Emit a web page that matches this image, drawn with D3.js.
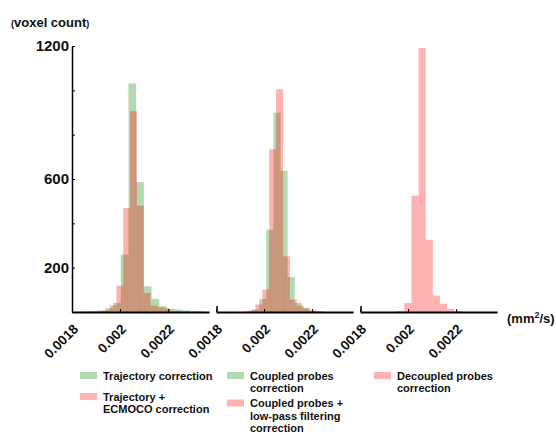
<!DOCTYPE html>
<html>
<head>
<meta charset="utf-8">
<script src="https://cdn.jsdelivr.net/npm/d3@7"></script>
<style>
  body { margin: 0; background: #fff; }
  svg text { font-family: "Liberation Sans", Arial, sans-serif; font-weight: bold; fill: #111; }
</style>
</head>
<body>
<script>
// histogram data: bin start, bin width, counts per bin
// panel 1
var trajStart = 0.001811, trajWidth = 0.000032;
var trajCounts = [1, 2, 3, 6, 17, 41, 259, 1031, 586, 116, 59, 26, 15, 11, 7, 4, 3];
var ecmocoStart = 0.0018137, ecmocoWidth = 0.0000285;
var ecmocoCounts = [1, 1, 2, 4, 8, 31, 119, 469, 906, 480, 86, 29, 22, 15, 3, 1];
// panel 2
var coupledStart = 0.0019208, coupledWidth = 0.0000295;
var coupledCounts = [2, 12, 59, 371, 899, 637, 158, 41, 19, 6, 2];
var lowpassStart = 0.0019065, lowpassWidth = 0.0000287;
var lowpassCounts = [2, 8, 34, 101, 734, 1005, 251, 56, 29, 15, 6, 3];
// panel 3
var decoupledStart = 0.0019254, decoupledWidth = 0.0000296;
var decoupledCounts = [1, 5, 41, 525, 1191, 326, 74, 37, 14, 4, 1];

var xTicks = [0.0018, 0.002, 0.0022];
var xTickLabels = ['0.0018', '0.002', '0.0022'];
var yTicks = [0, 200, 400, 600, 800, 1000, 1200];
var yLabelled = [200, 600, 1200];

var legendCols = [
  [{color: 'green', lines: ['Trajectory correction']},
   {color: 'red', lines: ['Trajectory +', 'ECMOCO correction']}],
  [{color: 'green', lines: ['Coupled probes', 'correction']},
   {color: 'red', lines: ['Coupled probes +', 'low-pass filtering', 'correction']}],
  [{color: 'red', lines: ['Decoupled probes', 'correction']}]
];

var width = 556, height = 435;
var fill = {green: 'rgb(0,128,0)', red: 'rgb(255,0,0)'};
var alpha = 0.3;

var svg = d3.select('body').append('svg')
  .attr('width', width)
  .attr('height', height);

var panels = [
  {x0: 72, series: [
    {start: trajStart, w: trajWidth, counts: trajCounts, color: 'green'},
    {start: ecmocoStart, w: ecmocoWidth, counts: ecmocoCounts, color: 'red'}]},
  {x0: 216, series: [
    {start: coupledStart, w: coupledWidth, counts: coupledCounts, color: 'green'},
    {start: lowpassStart, w: lowpassWidth, counts: lowpassCounts, color: 'red'}]},
  {x0: 360, series: [
    {start: decoupledStart, w: decoupledWidth, counts: decoupledCounts, color: 'red'}]}
];

var y = d3.scaleLinear().domain([0, 1200]).range([312, 46]);
var xMax = 0.00237;

panels.forEach(function(p, pi) {
  var x = d3.scaleLinear().domain([0.0018, xMax]).range([p.x0, p.x0 + 137]);
  var g = svg.append('g');

  // bars, green first then red on top
  p.series.forEach(function(s) {
    var bins = s.counts.map(function(c, i) {
      return {lo: s.start + i * s.w, hi: s.start + (i + 1) * s.w, c: c};
    }).filter(function(b) { return b.hi <= xMax + 1e-9; });
    g.selectAll(null)
      .data(bins)
      .enter().append('rect')
      .attr('x', function(b) { return x(b.lo); })
      .attr('width', function(b) { return x(b.hi) - x(b.lo); })
      .attr('y', function(b) { return y(b.c); })
      .attr('height', function(b) { return y(0) - y(b.c); })
      .attr('fill', fill[s.color])
      .attr('fill-opacity', alpha);
  });

  // x axis
  var xAxis = g.append('g')
    .attr('transform', 'translate(0,' + y(0) + ')')
    .call(d3.axisBottom(x).tickValues(xTicks).tickSize(-3).tickSizeOuter(0).tickFormat(''));
  xAxis.select('.domain').attr('stroke', '#000').attr('stroke-width', 2);
  xAxis.selectAll('.tick line').attr('stroke', '#000');

  g.selectAll(null)
    .data(xTicks)
    .enter().append('text')
    .attr('transform', function(d) { return 'translate(' + (x(d) + 7) + ',330) rotate(-45)'; })
    .attr('text-anchor', 'end')
    .attr('font-size', 13.5)
    .text(function(d, i) { return xTickLabels[i]; });

  if (pi === 0) {
    var yAxis = g.append('g')
      .attr('transform', 'translate(' + p.x0 + ',0)')
      .call(d3.axisLeft(y).tickValues(yTicks).tickSize(-3).tickSizeOuter(0)
        .tickFormat(function(d) { return yLabelled.indexOf(d) >= 0 ? d : ''; }));
    yAxis.select('.domain').attr('stroke', '#000').attr('stroke-width', 1.5);
    yAxis.selectAll('.tick line').attr('stroke', '#000');
    yAxis.selectAll('.tick text')
      .attr('x', -3)
      .attr('font-size', 15)
      .attr('font-family', '"Liberation Sans", Arial, sans-serif')
      .attr('font-weight', 'bold')
      .attr('fill', '#111');
  } else {
    // small stub at the start of the axis
    g.append('line')
      .attr('x1', p.x0 + 1).attr('x2', p.x0 + 1)
      .attr('y1', y(0)).attr('y2', y(0) - 6)
      .attr('stroke', '#000').attr('stroke-width', 1.5);
  }
});

// axis titles
var yt = svg.append('text').attr('x', 11).attr('y', 27).attr('font-size', 13);
yt.append('tspan').attr('font-size', 9).text('(');
yt.append('tspan').text('voxel count');
yt.append('tspan').attr('font-size', 9).text(')');

var xt = svg.append('text').attr('x', 507).attr('y', 323).attr('font-size', 13);
xt.append('tspan').text('(mm');
xt.append('tspan').attr('font-size', 9).attr('dy', -5).text('2');
xt.append('tspan').attr('dy', 5).text('/s)');

// legend
var colX = [80, 227, 374];
var itemTops = [[372, 393], [372, 399.5], [372]];
legendCols.forEach(function(col, ci) {
  col.forEach(function(item, ii) {
    var yy = itemTops[ci][ii];
    svg.append('rect')
      .attr('x', colX[ci]).attr('y', yy)
      .attr('width', 17).attr('height', 7)
      .attr('fill', fill[item.color]).attr('fill-opacity', alpha);
    item.lines.forEach(function(l, li) {
      svg.append('text')
        .attr('x', colX[ci] + 23)
        .attr('y', yy + 7.5 + li * 12.6)
        .attr('font-size', 11)
        .text(l);
    });
  });
});
</script>
</body>
</html>
